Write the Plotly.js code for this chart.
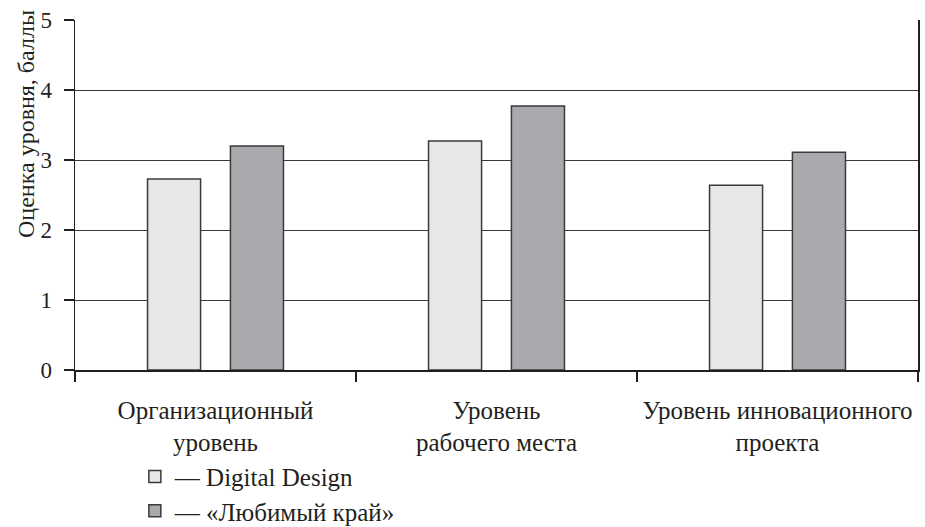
<!DOCTYPE html>
<html>
<head>
<meta charset="utf-8">
<script src="https://cdn.plot.ly/plotly-3.0.1.min.js"></script>
<style>html,body{margin:0;padding:0;background:#fff}#chart{width:925px;height:527px}</style>
</head>
<body>
<div id="chart"></div>
<script>
const categories = ["Организационный<br>уровень", "Уровень<br>рабочего места", "Уровень инновационного<br>проекта"];
const seriesNames = ["— Digital Design", "— «Любимый край»"];
const digitalDesign = [2.73, 3.27, 2.64];
const lyubimyKrai = [3.20, 3.77, 3.11];
const yTicks = [0, 1, 2, 3, 4, 5];
const yTitle = "Оценка уровня, баллы";

const FONT = "'Liberation Serif', 'Times New Roman', serif";
const INK = "#231f20";

const traces = [
  {type: "bar", x: categories, y: digitalDesign, name: seriesNames[0], legend: "legend",
   marker: {color: "#e6e7e9", line: {color: "#3a3a3a", width: 1.5}}},
  {type: "bar", x: categories, y: lyubimyKrai, name: seriesNames[1], legend: "legend2",
   marker: {color: "#a9aaad", line: {color: "#3a3a3a", width: 1.5}}}
];

const legendBase = {xanchor: "left", yanchor: "middle", orientation: "v",
  font: {family: FONT, size: 25, color: INK}, bgcolor: "rgba(0,0,0,0)", borderwidth: 0};

const layout = {
  width: 925, height: 527,
  margin: {l: 75, r: 7, t: 20, b: 157, autoexpand: false},
  paper_bgcolor: "#fff", plot_bgcolor: "#fff",
  font: {family: FONT, size: 25, color: INK},
  barmode: "group", bargap: 0.41, bargroupgap: 0.36,
  showlegend: true,
  legend: Object.assign({}, legendBase, {x: 0.071, y: -0.305}),
  legend2: Object.assign({}, legendBase, {x: 0.071, y: -0.403}),
  xaxis: {type: "category", tickson: "boundaries", ticks: "outside", ticklen: 10,
          tickcolor: INK, tickwidth: 1.2, showline: true, linecolor: INK, linewidth: 1.5,
          showgrid: false, tickfont: {family: FONT, size: 25, color: INK}, ticklabelstandoff: 17},
  yaxis: {range: [0, 5], tickvals: yTicks, ticktext: yTicks.map(String), ticks: "outside", ticklen: 10,
          tickcolor: INK, tickwidth: 1.2, showline: true, linecolor: INK, linewidth: 1.5,
          mirror: true, showgrid: true, gridcolor: "#3a3a3a", gridwidth: 1, zeroline: false,
          tickfont: {family: FONT, size: 23, color: INK}, ticklabelstandoff: 7},
  annotations: [
    {text: yTitle, xref: "paper", yref: "paper", x: -0.0581, y: 0.703,
     xanchor: "center", yanchor: "middle", textangle: -90, showarrow: false,
     font: {family: FONT, size: 24, color: INK}}
  ]
};

Plotly.newPlot("chart", traces, layout, {displayModeBar: false, staticPlot: true});
</script>
</body>
</html>
